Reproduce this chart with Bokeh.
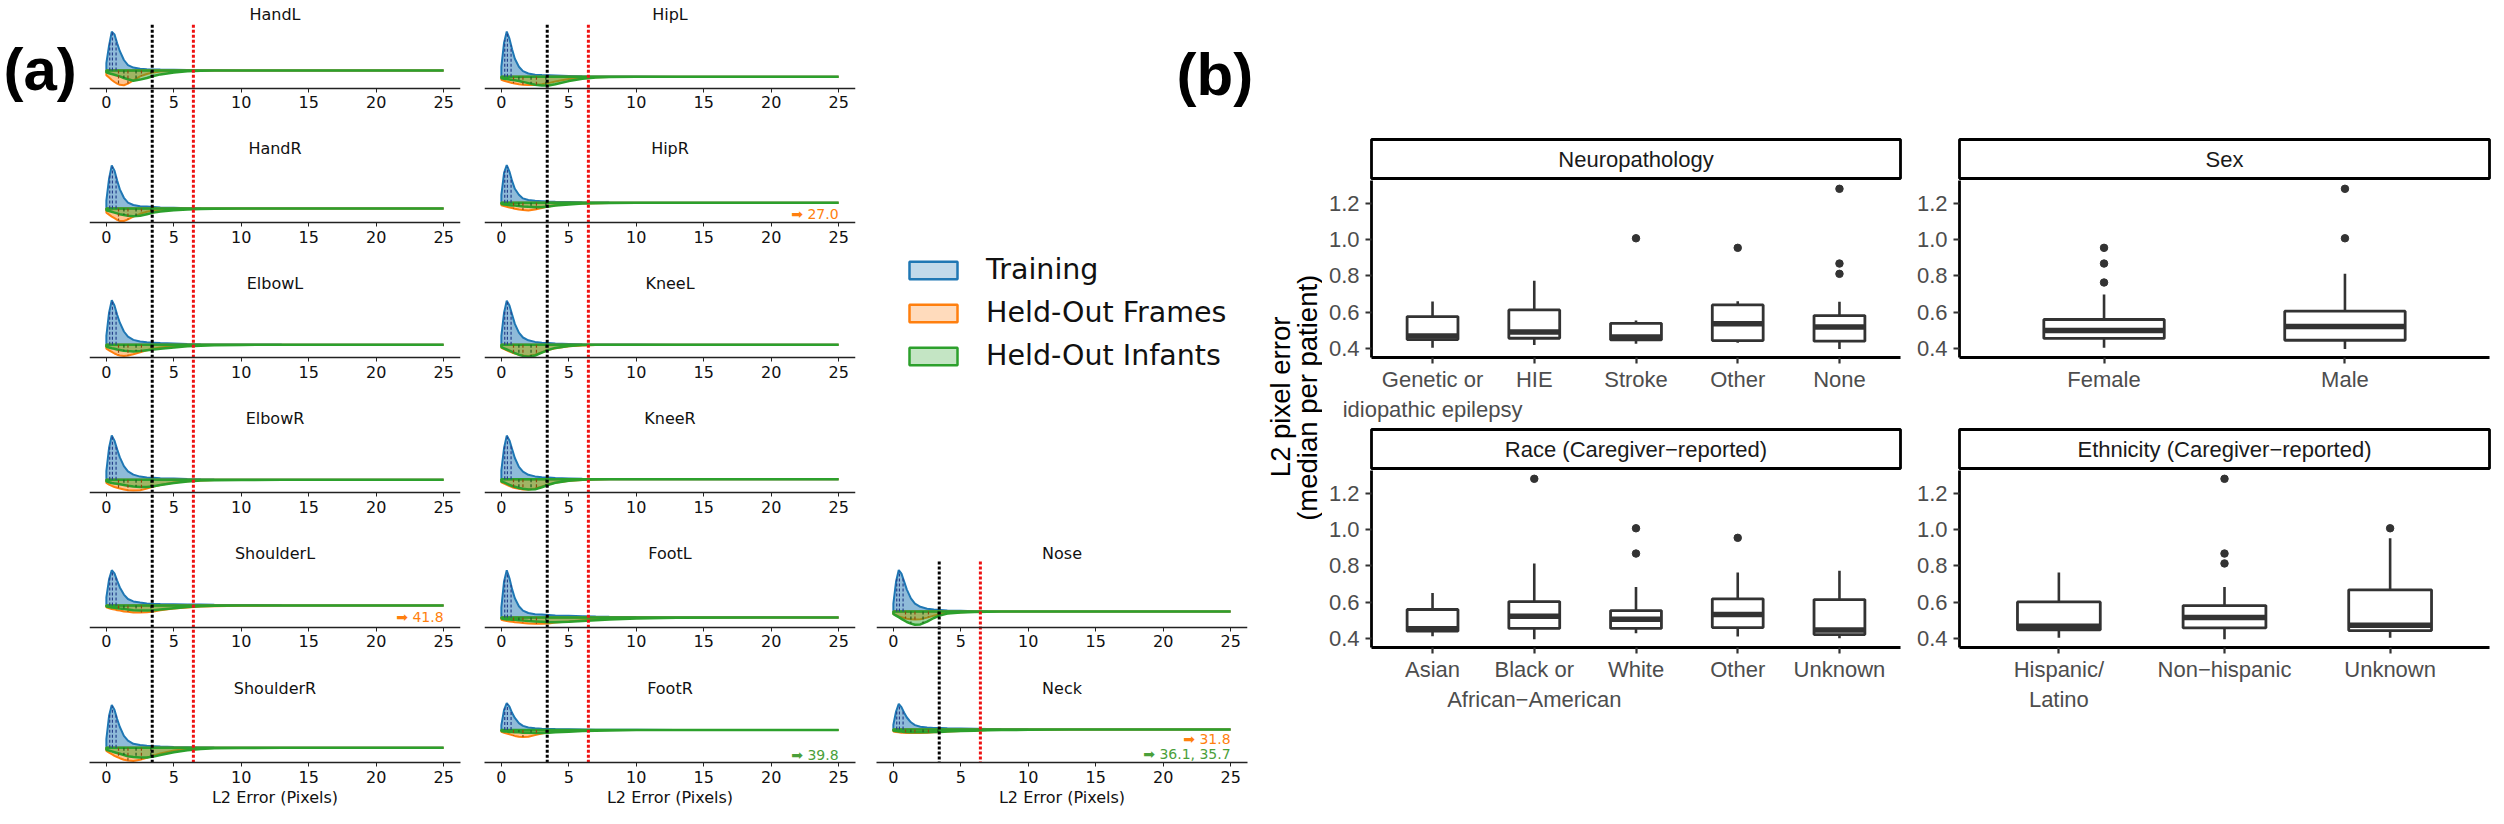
import numpy as np
from bokeh.plotting import figure
from bokeh.layouts import row, column
from bokeh.models import (Range1d, LinearAxis, FixedTicker, Legend, LegendItem,
                          NumeralTickFormatter)
from bokeh.embed import file_html
from bokeh.resources import INLINE
from bokeh.core.properties import value

# ---------------- panel (a) data : densities ----------------
XG = [0, 0.2, 0.4, 0.6, 0.8, 1.0, 1.3, 1.6, 2.0, 2.5, 3.0, 3.5, 4.0, 5.0, 6.0, 7.0, 8.0, 10.0, 13.0, 25.0]

HANDL_TRAIN = [0.18, 0.62, 0.97, 0.90, 0.68, 0.48, 0.26, 0.13, 0.07, 0.04, 0.03, 0.025, 0.02, 0.015, 0.01, 0.005, 0.003, 0, 0, 0]
HANDL_FRAMES = [0.12, 0.18, 0.24, 0.29, 0.33, 0.36, 0.37, 0.33, 0.25, 0.15, 0.09, 0.05, 0.03, 0.012, 0.005, 0.002, 0, 0, 0, 0]
HANDL_INFANTS = [0.05, 0.07, 0.09, 0.11, 0.13, 0.15, 0.19, 0.22, 0.26, 0.23, 0.19, 0.14, 0.1, 0.05, 0.02, 0.01, 0.005, 0, 0, 0]
HANDR_TRAIN = [0.2, 0.75, 1.08, 0.95, 0.7, 0.48, 0.27, 0.15, 0.09, 0.06, 0.05, 0.04, 0.03, 0.02, 0.01, 0.006, 0.004, 0.002, 0, 0]
HANDR_FRAMES = [0.1, 0.15, 0.2, 0.24, 0.28, 0.31, 0.31, 0.27, 0.2, 0.13, 0.08, 0.05, 0.03, 0.012, 0.005, 0.002, 0, 0, 0, 0]
HANDR_INFANTS = [0.04, 0.06, 0.08, 0.1, 0.12, 0.14, 0.16, 0.18, 0.19, 0.18, 0.14, 0.1, 0.07, 0.04, 0.02, 0.01, 0.005, 0, 0, 0]
ELBOWL_TRAIN = [0.22, 0.8, 1.11, 0.98, 0.75, 0.55, 0.33, 0.2, 0.12, 0.08, 0.06, 0.05, 0.04, 0.03, 0.02, 0.012, 0.008, 0.004, 0.002, 0]
ELBOWL_FRAMES = [0.1, 0.14, 0.18, 0.22, 0.25, 0.27, 0.28, 0.27, 0.24, 0.19, 0.14, 0.1, 0.07, 0.04, 0.02, 0.01, 0.005, 0, 0, 0]
ELBOWL_INFANTS = [0.05, 0.07, 0.09, 0.1, 0.12, 0.13, 0.15, 0.16, 0.17, 0.16, 0.14, 0.12, 0.1, 0.07, 0.04, 0.025, 0.015, 0.005, 0, 0]
ELBOWR_TRAIN = [0.22, 0.8, 1.11, 0.98, 0.76, 0.56, 0.34, 0.21, 0.13, 0.08, 0.06, 0.05, 0.04, 0.03, 0.02, 0.012, 0.008, 0.004, 0.002, 0]
ELBOWR_FRAMES = [0.08, 0.12, 0.15, 0.18, 0.2, 0.22, 0.24, 0.26, 0.27, 0.26, 0.22, 0.17, 0.13, 0.07, 0.035, 0.015, 0.008, 0.002, 0, 0]
ELBOWR_INFANTS = [0.04, 0.06, 0.08, 0.09, 0.1, 0.11, 0.13, 0.15, 0.17, 0.18, 0.18, 0.16, 0.13, 0.08, 0.04, 0.02, 0.01, 0.003, 0, 0]
SHOULDERL_TRAIN = [0.2, 0.65, 0.88, 0.8, 0.62, 0.45, 0.27, 0.16, 0.1, 0.07, 0.05, 0.04, 0.035, 0.03, 0.025, 0.02, 0.015, 0.01, 0.005, 0]
SHOULDERL_FRAMES = [0.05, 0.07, 0.09, 0.1, 0.12, 0.13, 0.15, 0.16, 0.18, 0.18, 0.17, 0.15, 0.12, 0.08, 0.05, 0.03, 0.02, 0.01, 0.004, 0]
SHOULDERL_INFANTS = [0.03, 0.04, 0.05, 0.06, 0.07, 0.08, 0.09, 0.1, 0.12, 0.13, 0.13, 0.12, 0.1, 0.07, 0.04, 0.02, 0.01, 0.004, 0, 0]
SHOULDERR_TRAIN = [0.22, 0.8, 1.07, 0.95, 0.72, 0.52, 0.3, 0.18, 0.1, 0.07, 0.05, 0.04, 0.03, 0.02, 0.015, 0.01, 0.006, 0.003, 0, 0]
SHOULDERR_FRAMES = [0.08, 0.12, 0.16, 0.2, 0.23, 0.26, 0.3, 0.32, 0.33, 0.3, 0.25, 0.19, 0.14, 0.07, 0.03, 0.012, 0.005, 0, 0, 0]
SHOULDERR_INFANTS = [0.05, 0.07, 0.09, 0.11, 0.13, 0.15, 0.18, 0.21, 0.23, 0.24, 0.24, 0.22, 0.18, 0.11, 0.06, 0.03, 0.012, 0.003, 0, 0]
HIPL_TRAIN = [0.25, 0.85, 1.13, 0.95, 0.68, 0.45, 0.25, 0.14, 0.08, 0.05, 0.04, 0.035, 0.03, 0.02, 0.01, 0.006, 0.004, 0.002, 0, 0]
HIPL_FRAMES = [0.08, 0.1, 0.12, 0.14, 0.16, 0.17, 0.19, 0.2, 0.21, 0.21, 0.19, 0.16, 0.12, 0.06, 0.03, 0.012, 0.005, 0, 0, 0]
HIPL_INFANTS = [0.04, 0.05, 0.06, 0.07, 0.08, 0.09, 0.11, 0.13, 0.16, 0.2, 0.22, 0.22, 0.19, 0.11, 0.05, 0.02, 0.008, 0, 0, 0]
HIPR_TRAIN = [0.2, 0.75, 0.94, 0.78, 0.54, 0.35, 0.2, 0.11, 0.07, 0.05, 0.04, 0.03, 0.025, 0.02, 0.012, 0.008, 0.005, 0.002, 0, 0]
HIPR_FRAMES = [0.06, 0.08, 0.1, 0.12, 0.13, 0.15, 0.17, 0.18, 0.19, 0.17, 0.13, 0.09, 0.06, 0.03, 0.02, 0.012, 0.008, 0.004, 0.002, 0]
HIPR_INFANTS = [0.03, 0.04, 0.05, 0.06, 0.07, 0.07, 0.08, 0.09, 0.1, 0.11, 0.11, 0.09, 0.07, 0.04, 0.02, 0.01, 0.005, 0, 0, 0]
KNEEL_TRAIN = [0.22, 0.8, 1.1, 0.98, 0.75, 0.52, 0.3, 0.18, 0.11, 0.07, 0.05, 0.04, 0.03, 0.02, 0.01, 0.006, 0.004, 0.002, 0, 0]
KNEEL_FRAMES = [0.08, 0.11, 0.14, 0.17, 0.2, 0.22, 0.25, 0.27, 0.28, 0.25, 0.19, 0.13, 0.09, 0.04, 0.02, 0.008, 0.003, 0, 0, 0]
KNEEL_INFANTS = [0.06, 0.09, 0.12, 0.15, 0.18, 0.21, 0.25, 0.28, 0.3, 0.27, 0.2, 0.13, 0.08, 0.03, 0.01, 0.004, 0, 0, 0, 0]
KNEER_TRAIN = [0.22, 0.78, 1.09, 0.97, 0.75, 0.53, 0.31, 0.19, 0.11, 0.07, 0.05, 0.04, 0.03, 0.02, 0.01, 0.006, 0.004, 0.002, 0, 0]
KNEER_FRAMES = [0.08, 0.11, 0.14, 0.17, 0.2, 0.22, 0.24, 0.26, 0.26, 0.23, 0.18, 0.13, 0.09, 0.04, 0.02, 0.008, 0.003, 0, 0, 0]
KNEER_INFANTS = [0.06, 0.08, 0.11, 0.14, 0.17, 0.19, 0.22, 0.24, 0.26, 0.25, 0.2, 0.14, 0.09, 0.04, 0.015, 0.005, 0, 0, 0, 0]
FOOTL_TRAIN = [0.25, 0.9, 1.18, 0.98, 0.7, 0.48, 0.28, 0.17, 0.11, 0.08, 0.07, 0.06, 0.05, 0.04, 0.03, 0.02, 0.015, 0.008, 0.003, 0]
FOOTL_FRAMES = [0.06, 0.08, 0.09, 0.1, 0.11, 0.12, 0.13, 0.14, 0.15, 0.16, 0.16, 0.15, 0.13, 0.1, 0.07, 0.05, 0.03, 0.015, 0.005, 0]
FOOTL_INFANTS = [0.03, 0.04, 0.05, 0.05, 0.06, 0.06, 0.07, 0.08, 0.09, 0.1, 0.11, 0.12, 0.12, 0.11, 0.09, 0.07, 0.05, 0.025, 0.01, 0]
FOOTR_TRAIN = [0.12, 0.5, 0.67, 0.58, 0.42, 0.3, 0.17, 0.1, 0.06, 0.04, 0.03, 0.025, 0.02, 0.015, 0.01, 0.006, 0.004, 0.002, 0, 0]
FOOTR_FRAMES = [0.05, 0.07, 0.09, 0.11, 0.13, 0.15, 0.17, 0.18, 0.17, 0.13, 0.09, 0.06, 0.04, 0.02, 0.01, 0.005, 0.002, 0, 0, 0]
FOOTR_INFANTS = [0.03, 0.04, 0.04, 0.05, 0.05, 0.06, 0.06, 0.07, 0.07, 0.08, 0.08, 0.07, 0.06, 0.045, 0.03, 0.02, 0.012, 0.005, 0.002, 0]
NOSE_TRAIN = [0.2, 0.75, 1.04, 0.95, 0.75, 0.55, 0.33, 0.2, 0.12, 0.07, 0.05, 0.04, 0.03, 0.02, 0.01, 0.006, 0.004, 0.002, 0, 0]
NOSE_FRAMES = [0.06, 0.09, 0.12, 0.14, 0.16, 0.18, 0.19, 0.2, 0.19, 0.15, 0.1, 0.06, 0.04, 0.015, 0.005, 0, 0, 0, 0, 0]
NOSE_INFANTS = [0.06, 0.1, 0.14, 0.18, 0.22, 0.26, 0.3, 0.33, 0.32, 0.25, 0.16, 0.09, 0.05, 0.02, 0.008, 0.003, 0, 0, 0, 0]
NECK_TRAIN = [0.12, 0.45, 0.64, 0.56, 0.42, 0.3, 0.18, 0.11, 0.07, 0.05, 0.04, 0.035, 0.03, 0.025, 0.02, 0.015, 0.01, 0.006, 0.003, 0]
NECK_FRAMES = [0.05, 0.06, 0.07, 0.08, 0.08, 0.09, 0.09, 0.09, 0.09, 0.08, 0.07, 0.06, 0.05, 0.035, 0.025, 0.015, 0.01, 0.005, 0.002, 0]
NECK_INFANTS = [0.03, 0.04, 0.05, 0.05, 0.06, 0.06, 0.07, 0.07, 0.07, 0.07, 0.06, 0.06, 0.05, 0.04, 0.03, 0.02, 0.015, 0.008, 0.003, 0]

# quartiles (training / held-out frames / held-out infants)
TRAIN_QUART = [0.25, 0.45, 0.72]
FRAMES_QUART = [0.9, 1.6, 2.6]
INFANTS_QUART = [1.3, 2.2, 3.3]

THRESH_BLACK = 3.4
THRESH_RED = 6.45

# off-axis maxima annotations
HIPR_FRAMES_MAX = "27.0"
SHOULDERL_FRAMES_MAX = "41.8"
FOOTR_INFANTS_MAX = "39.8"
NECK_FRAMES_MAX = "31.8"
NECK_INFANTS_MAX = "36.1, 35.7"

COL1_JOINTS = ["HandL", "HandR", "ElbowL", "ElbowR", "ShoulderL", "ShoulderR"]
COL2_JOINTS = ["HipL", "HipR", "KneeL", "KneeR", "FootL", "FootR"]
COL3_JOINTS = ["Nose", "Neck"]
LEGEND_LABELS = ["Training", "Held-Out Frames", "Held-Out Infants"]
X_TICKS_A = [0, 5, 10, 15, 20, 25]

# ---------------- panel (b) data : box statistics ----------------
NEURO_CATS = ["Genetic or\nidiopathic epilepsy", "HIE", "Stroke", "Other", "None"]
NEURO_LO = [0.402, 0.418, 0.424, 0.430, 0.396]
NEURO_Q1 = [0.448, 0.455, 0.446, 0.442, 0.439]
NEURO_MED = [0.468, 0.490, 0.462, 0.535, 0.518]
NEURO_Q3 = [0.575, 0.612, 0.538, 0.640, 0.581]
NEURO_HI = [0.659, 0.773, 0.553, 0.660, 0.657]
NEURO_OUT = [[], [], [1.009], [0.956], [1.283, 0.869, 0.812]]

SEX_CATS = ["Female", "Male"]
SEX_LO = [0.402, 0.396]
SEX_Q1 = [0.454, 0.444]
SEX_MED = [0.498, 0.520]
SEX_Q3 = [0.559, 0.605]
SEX_HI = [0.697, 0.812]
SEX_OUT = [[0.956, 0.869, 0.764], [1.283, 1.009]]

RACE_CATS = ["Asian", "Black or\nAfrican\u2212American", "White", "Other", "Unknown"]
RACE_LO = [0.411, 0.394, 0.428, 0.409, 0.400]
RACE_Q1 = [0.439, 0.454, 0.454, 0.459, 0.420]
RACE_MED = [0.452, 0.522, 0.505, 0.531, 0.446]
RACE_Q3 = [0.559, 0.603, 0.553, 0.618, 0.614]
RACE_HI = [0.651, 0.814, 0.684, 0.764, 0.773]
RACE_OUT = [[], [1.283], [1.009, 0.869], [0.956], []]

ETH_CATS = ["Hispanic/\nLatino", "Non\u2212hispanic", "Unknown"]
ETH_LO = [0.402, 0.394, 0.402]
ETH_Q1 = [0.446, 0.457, 0.442]
ETH_MED = [0.466, 0.514, 0.472]
ETH_Q3 = [0.601, 0.581, 0.668]
ETH_HI = [0.764, 0.684, 0.954]
ETH_OUT = [[], [1.283, 0.869, 0.814], [1.009]]

Y_TICKS_B = [0.4, 0.6, 0.8, 1.0, 1.2]

# ---------------- tables built from the lists ----------------
DENS = {
    "HandL": (HANDL_TRAIN, HANDL_FRAMES, HANDL_INFANTS),
    "HandR": (HANDR_TRAIN, HANDR_FRAMES, HANDR_INFANTS),
    "ElbowL": (ELBOWL_TRAIN, ELBOWL_FRAMES, ELBOWL_INFANTS),
    "ElbowR": (ELBOWR_TRAIN, ELBOWR_FRAMES, ELBOWR_INFANTS),
    "ShoulderL": (SHOULDERL_TRAIN, SHOULDERL_FRAMES, SHOULDERL_INFANTS),
    "ShoulderR": (SHOULDERR_TRAIN, SHOULDERR_FRAMES, SHOULDERR_INFANTS),
    "HipL": (HIPL_TRAIN, HIPL_FRAMES, HIPL_INFANTS),
    "HipR": (HIPR_TRAIN, HIPR_FRAMES, HIPR_INFANTS),
    "KneeL": (KNEEL_TRAIN, KNEEL_FRAMES, KNEEL_INFANTS),
    "KneeR": (KNEER_TRAIN, KNEER_FRAMES, KNEER_INFANTS),
    "FootL": (FOOTL_TRAIN, FOOTL_FRAMES, FOOTL_INFANTS),
    "FootR": (FOOTR_TRAIN, FOOTR_FRAMES, FOOTR_INFANTS),
    "Nose": (NOSE_TRAIN, NOSE_FRAMES, NOSE_INFANTS),
    "Neck": (NECK_TRAIN, NECK_FRAMES, NECK_INFANTS),
}
ANNOT = {
    "HipR": [(HIPR_FRAMES_MAX, "frames")],
    "ShoulderL": [(SHOULDERL_FRAMES_MAX, "frames")],
    "FootR": [(FOOTR_INFANTS_MAX, "infants")],
    "Neck": [(NECK_FRAMES_MAX, "frames"), (NECK_INFANTS_MAX, "infants")],
}

# ---------------- styling / layout constants ----------------
BLUE, ORANGE, GREEN = "#1f77b4", "#ff7f0e", "#2ca02c"
FONT_A = "DejaVu Sans"
FONT_B = "Liberation Sans"
PX = 40.0                       # pixels per density unit
AXIS_Y = [87.8, 222.3, 357.3, 492.4, 626.9, 762.0]
BASE_OFF = {"HandL": 17.9, "HandR": 14.2, "ElbowL": 13.1, "ElbowR": 13.1, "ShoulderL": 22.0,
            "ShoulderR": 14.7, "HipL": 11.6, "HipR": 20.0, "KneeL": 13.1, "KneeR": 13.7,
            "FootL": 10.0, "FootR": 32.6, "Nose": 15.8, "Neck": 33.0}
ANNOT_DY = {"HipR": [9.0], "ShoulderL": [10.5], "FootR": [7.7], "Neck": [23.7, 8.7]}
H_ALL = 816


def bare(p):
    p.outline_line_color = None
    p.background_fill_color = "white"
    p.border_fill_color = "white"
    return p


def style_axis_a(ax):
    ax.ticker = FixedTicker(ticks=X_TICKS_A)
    ax.axis_line_color = "#222222"
    ax.axis_line_width = 1.4
    ax.major_tick_line_color = "#222222"
    ax.major_tick_out = 4
    ax.major_tick_in = 0
    ax.minor_tick_out = 0
    ax.minor_tick_in = 0
    ax.major_label_text_font = FONT_A
    ax.major_label_text_font_size = "16px"
    ax.major_label_text_color = "#111111"
    ax.major_label_standoff = 4
    ax.axis_label_text_font = FONT_A
    ax.axis_label_text_font_size = "16px"
    ax.axis_label_text_font_style = "normal"
    ax.axis_label_text_color = "#111111"
    ax.axis_label_standoff = 2


def panel_col(joints, rows, top_ref, right_border, line_top):
    p = figure(width=371 + right_border, height=H_ALL - top_ref,
               x_range=Range1d(-1.25, 26.25), y_range=Range1d(762, top_ref),
               x_axis_type=None, y_axis_type=None, output_backend="svg",
               toolbar_location=None, min_border_left=0, min_border_right=right_border,
               min_border_top=0, min_border_bottom=H_ALL - 762)
    bare(p)
    for j, k in zip(joints, rows):
        A = AXIS_Y[k]
        b = A - BASE_OFF[j]
        tr, fr, inf = DENS[j]
        xs = XG + XG[::-1]
        p.patch(xs, [b - PX * v for v in tr] + [b] * len(XG), fill_color=BLUE, fill_alpha=0.5,
                line_color=BLUE, line_width=2)
        p.patch(xs, [b + PX * v for v in fr] + [b] * len(XG), fill_color=ORANGE, fill_alpha=0.45,
                line_color=ORANGE, line_width=2)
        p.patch(xs, [b + PX * v for v in inf] + [b] * len(XG), fill_color=GREEN, fill_alpha=0.45,
                line_color=GREEN, line_width=2.5)
        for q in TRAIN_QUART:
            h = float(np.interp(q, XG, tr))
            p.segment([q], [b], [q], [b - PX * h], line_color="#27408b", line_width=1.2, line_dash="3 2")
        for q in FRAMES_QUART:
            h = float(np.interp(q, XG, fr))
            p.segment([q], [b], [q], [b + PX * h], line_color="#8a4a10", line_width=1.2, line_dash="3 2")
        for q in INFANTS_QUART:
            h = float(np.interp(q, XG, inf))
            p.segment([q], [b], [q], [b + PX * h], line_color="#1f5a1f", line_width=1.2, line_dash="3 2")
        p.text(x=[12.5], y=[A - 74.0], text=[j], text_align="center", text_baseline="middle",
               text_font=value(FONT_A), text_font_size="16px", text_color="#111111")
        for (txt, kind), dy in zip(ANNOT.get(j, []), ANNOT_DY.get(j, [])):
            p.text(x=[25], y=[A - dy], text=["\u27a1 " + txt], text_align="right", text_baseline="middle",
                   text_font=value(FONT_A), text_font_size="14px",
                   text_color=ORANGE if kind == "frames" else "#4aa03a")
        if k == 5:
            ax = LinearAxis(axis_label="L2 Error (Pixels)")
        else:
            ax = LinearAxis(fixed_location=A)
        style_axis_a(ax)
        p.add_layout(ax, "below")
    p.segment([THRESH_BLACK], [line_top], [THRESH_BLACK], [762], line_color="black",
              line_width=3, line_dash="3 2")
    p.segment([THRESH_RED], [line_top], [THRESH_RED], [762], line_color="#ee1111",
              line_width=3, line_dash="3 2")
    return p


# ---- (a) label
fig_a = bare(figure(width=89, height=H_ALL, x_range=Range1d(0, 89), y_range=Range1d(H_ALL, 0),
                    x_axis_type=None, y_axis_type=None, output_backend="svg", toolbar_location=None,
                    min_border=0))
fig_a.text(x=[3], y=[74], text=["(a)"], text_font=value(FONT_B), text_font_style="bold",
           text_font_size="60px", text_baseline="alphabetic", text_color="black")

col1 = panel_col(COL1_JOINTS, range(6), 0, 24, 24.2)
col2 = panel_col(COL2_JOINTS, range(6), 0, 21, 24.2)
col3 = panel_col(COL3_JOINTS, [4, 5], 248, 15, 561)

# legend in column 3 (proxy renderers placed outside the visible range)
items = []
for lab, colr in zip(LEGEND_LABELS, [BLUE, ORANGE, GREEN]):
    r = col3.quad(left=[-60], right=[-59], top=[-60], bottom=[-59], fill_color=colr, fill_alpha=0.28,
                  line_color=colr, line_width=2.5)
    items.append(LegendItem(label=lab, renderers=[r]))
leg = Legend(items=items, location=(27, 390), orientation="vertical", glyph_width=60,
             glyph_height=22, label_height=32, spacing=10, label_standoff=23, padding=0,
             margin=0, border_line_alpha=0, background_fill_alpha=0,
             label_text_font=FONT_A, label_text_font_size="28.5px", label_text_color="#111111")
col3.add_layout(leg)

# ---- (b) label
fig_b = bare(figure(width=446, height=248, x_range=Range1d(876, 1322), y_range=Range1d(248, 0),
                    x_axis_type=None, y_axis_type=None, output_backend="svg", toolbar_location=None,
                    min_border=0))
fig_b.text(x=[1176], y=[74], text=["(b)"], text_font=value(FONT_B), text_font_style="bold",
           text_font_size="60px", text_baseline="alphabetic", text_color="black")

# ---- shared y label of panel (b)
ylab = bare(figure(width=60, height=H_ALL - 248, x_range=Range1d(1262, 1322),
                   y_range=Range1d(0, H_ALL - 248),
                   x_axis_type=None, y_axis_type=None, output_backend="svg", toolbar_location=None,
                   min_border=0))
ylab.text(x=[1280, 1307], y=[H_ALL - 412, H_ALL - 413], text=["L2 pixel error", "(median per patient)"],
          angle=np.pi / 2, text_align="center", text_baseline="middle", text_font=value(FONT_B),
          text_font_size="27.5px", text_color="black")


def strip(title, left, frame_w, right, top, bottom):
    p = figure(width=left + frame_w + right, height=top + 39 + bottom,
               x_range=Range1d(0, 1), y_range=Range1d(0, 1), x_axis_type=None, y_axis_type=None,
               output_backend="svg", toolbar_location=None, min_border_left=left,
               min_border_right=right, min_border_top=top, min_border_bottom=bottom)
    p.background_fill_color = "white"
    p.border_fill_color = "white"
    p.outline_line_color = "black"
    p.outline_line_width = 2.8
    p.outline_line_alpha = 1.0
    p.text(x=[0.5], y=[0.5], text=[title], text_align="center", text_baseline="middle",
           text_font=value(FONT_B), text_font_size="22px", text_color="#1a1a1a")
    return p


def facet(cats, lo, q1, med, q3, hi, outs, left, frame_w, right, bottom):
    n = len(cats)
    p = figure(width=left + frame_w + right, height=177 + bottom,
               x_range=Range1d(0.4, n + 0.6), y_range=Range1d(0.3485, 1.329),
               x_axis_type=None, y_axis_type=None, output_backend="svg", toolbar_location=None,
               min_border_left=left, min_border_right=right, min_border_top=0,
               min_border_bottom=bottom)
    bare(p)
    xs = list(range(1, n + 1))
    p.segment(xs, hi, xs, q3, line_color="#333333", line_width=2.6)
    p.segment(xs, lo, xs, q1, line_color="#333333", line_width=2.6)
    p.quad(left=[x - 0.25 for x in xs], right=[x + 0.25 for x in xs], bottom=q1, top=q3,
           fill_color="white", line_color="#333333", line_width=2.8)
    p.rect(x=xs, y=med, width=0.5, height=5.5, height_units="screen", fill_color="#333333",
           line_color=None)
    ox = [x for x, o in zip(xs, outs) for _ in o]
    oy = [v for o in outs for v in o]
    p.scatter(ox, oy, size=7.5, color="#333333")
    yax = LinearAxis(ticker=FixedTicker(ticks=Y_TICKS_B), formatter=NumeralTickFormatter(format="0.0"))
    xax = LinearAxis(ticker=FixedTicker(ticks=xs),
                     major_label_overrides={x: c for x, c in zip(xs, cats)})
    for ax in (yax, xax):
        ax.axis_line_color = "black"
        ax.axis_line_width = 2.8
        ax.major_tick_line_color = "#333333"
        ax.major_tick_line_width = 2.2
        ax.major_tick_out = 6
        ax.major_tick_in = 0
        ax.minor_tick_out = 0
        ax.minor_tick_in = 0
        ax.major_label_text_font = FONT_B
        ax.major_label_text_font_size = "22px"
        ax.major_label_text_color = "#4d4d4d"
    yax.major_label_standoff = 6
    xax.major_label_standoff = 3
    p.add_layout(yax, "left")
    p.add_layout(xax, "below")
    return p


colB1 = column(
    strip("Neuropathology", 49, 529, 10, 139, 2),
    facet(NEURO_CATS, NEURO_LO, NEURO_Q1, NEURO_MED, NEURO_Q3, NEURO_HI, NEURO_OUT, 49, 529, 10, 70),
    strip("Race (Caregiver\u2212reported)", 49, 529, 10, 2, 2),
    facet(RACE_CATS, RACE_LO, RACE_Q1, RACE_MED, RACE_Q3, RACE_HI, RACE_OUT, 49, 529, 10, 169),
)
colB2 = column(
    strip("Sex", 49, 530, 7, 139, 2),
    facet(SEX_CATS, SEX_LO, SEX_Q1, SEX_MED, SEX_Q3, SEX_HI, SEX_OUT, 49, 530, 7, 70),
    strip("Ethnicity (Caregiver\u2212reported)", 49, 530, 7, 2, 2),
    facet(ETH_CATS, ETH_LO, ETH_Q1, ETH_MED, ETH_Q3, ETH_HI, ETH_OUT, 49, 530, 7, 169),
)

layout = row(fig_a, col1, col2, column(fig_b, row(col3, ylab)), colB1, colB2)
open("out.html", "w").write(file_html(layout, INLINE))
